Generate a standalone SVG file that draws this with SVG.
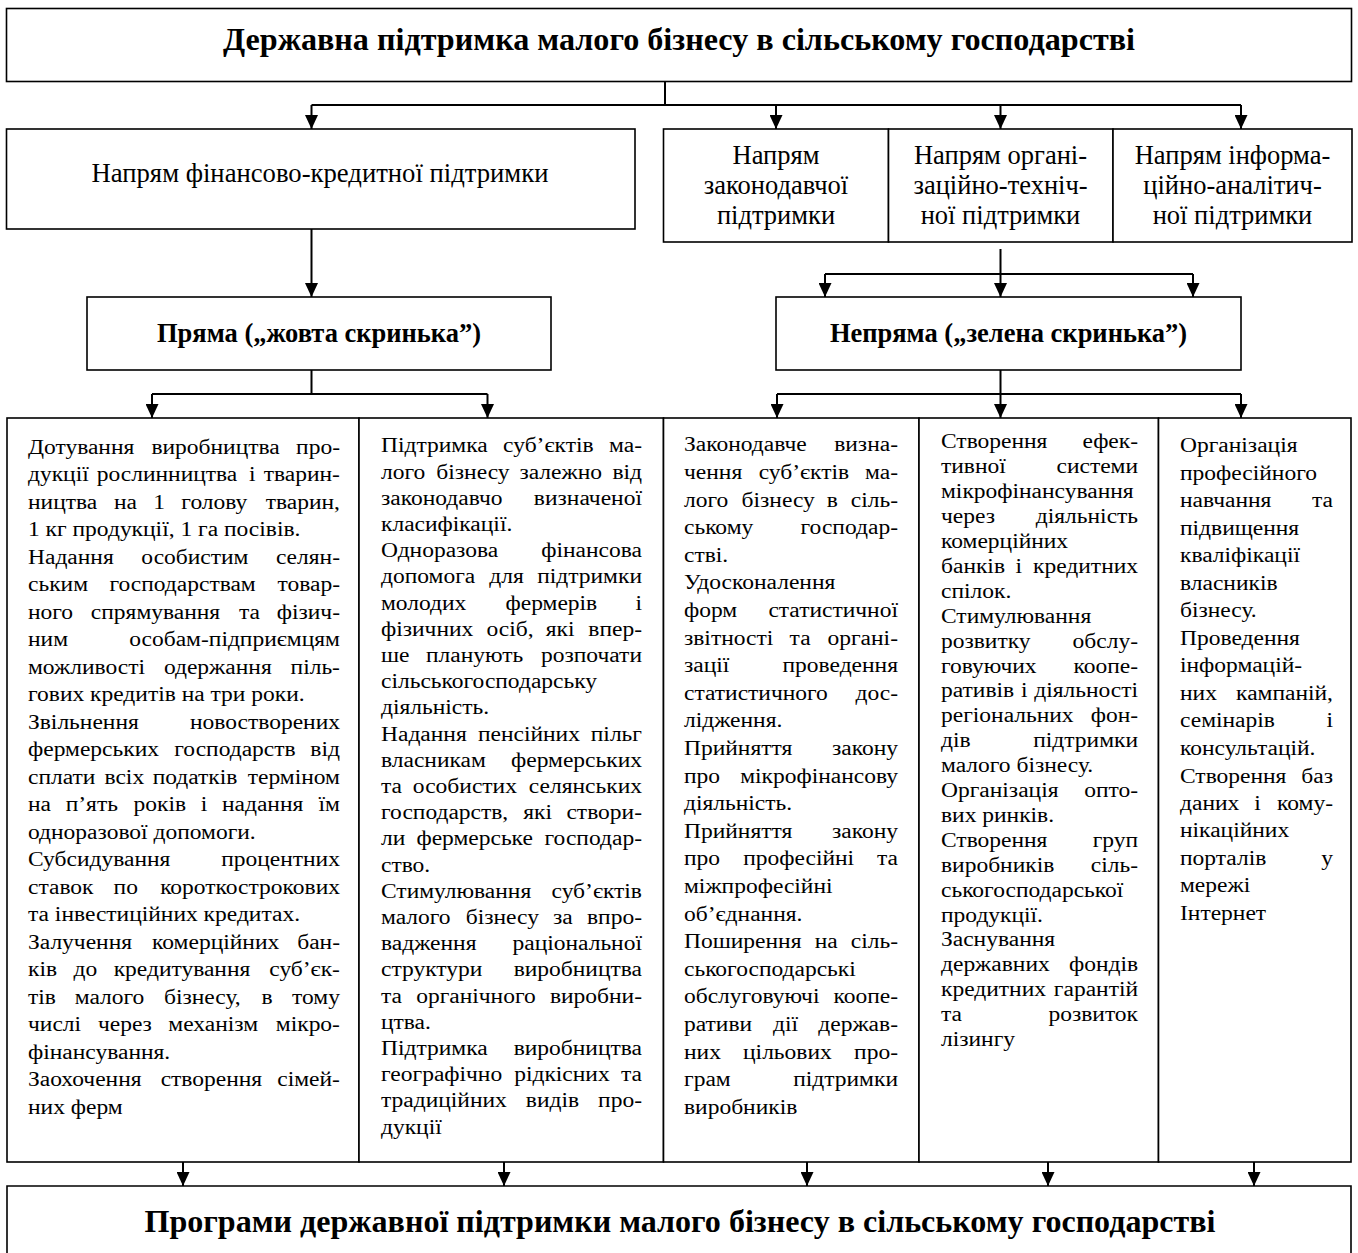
<svg xmlns="http://www.w3.org/2000/svg" width="1358" height="1253" viewBox="0 0 1358 1253">
<defs>
<style>
.box{fill:#fff;stroke:#000;stroke-width:1.6}
.con{fill:none;stroke:#000;stroke-width:2}
text{font-family:"Liberation Serif","Times New Roman",serif;fill:#000}
.h1{font-size:31px;font-weight:bold;text-anchor:middle}
.h2{font-size:26.5px;text-anchor:middle}
.h3{font-size:26.5px;font-weight:bold;text-anchor:middle}
.t{font-size:20px}
.e{text-anchor:end}
.m{text-anchor:middle}
</style>
<marker id="ar" markerUnits="userSpaceOnUse" markerWidth="14" markerHeight="13" refX="14" refY="6.5" orient="auto">
<path d="M0,0 L14,6.5 L0,13 Z" fill="#000"/>
</marker>
</defs>
<rect width="1358" height="1253" fill="#fff"/>

<g id="top">
<rect class="box" x="6.5" y="8.5" width="1345" height="73"/>
<text class="h1" x="679" y="50" textLength="912" lengthAdjust="spacingAndGlyphs">Державна підтримка малого бізнесу в сільському господарстві</text>
</g>

<g id="fin">
<rect class="box" x="6.5" y="129" width="628.5" height="100"/>
<text class="h2" x="320" y="182" textLength="457" lengthAdjust="spacingAndGlyphs">Напрям фінансово-кредитної підтримки</text>
</g>
<g id="zak">
<rect class="box" x="663.5" y="129" width="225" height="113"/>
<text class="h2" x="776" y="164">Напрям</text>
<text class="h2" x="776" y="194">законодавчої</text>
<text class="h2" x="776" y="224">підтримки</text>
</g>
<g id="org">
<rect class="box" x="888.5" y="129" width="224.5" height="113"/>
<text class="h2" x="1000.5" y="164">Напрям органі-</text>
<text class="h2" x="1000.5" y="194">заційно-техніч-</text>
<text class="h2" x="1000.5" y="224">ної підтримки</text>
</g>
<g id="inf">
<rect class="box" x="1113" y="129" width="239" height="113"/>
<text class="h2" x="1232.5" y="164">Напрям інформа-</text>
<text class="h2" x="1232.5" y="194">ційно-аналітич-</text>
<text class="h2" x="1232.5" y="224">ної підтримки</text>
</g>

<g id="pryama">
<rect class="box" x="87" y="297" width="464" height="73"/>
<text class="h3" x="319" y="342">Пряма („жовта скринька”)</text>
</g>
<g id="nepryama">
<rect class="box" x="776" y="297" width="465" height="73"/>
<text class="h3" x="1008.5" y="342">Непряма („зелена скринька”)</text>
</g>

<g id="col1">
<rect class="box" x="7" y="418" width="352" height="744"/>
<g transform="translate(28,0) scale(1.175,1)">
<text class="t" x="0" y="454">Дотування</text><text class="t m" x="159.65" y="454">виробництва</text><text class="t e" x="265.5" y="454">про-</text>
<text class="t" x="0" y="481.5">дукції</text><text class="t" x="58.5" y="481.5">рослинництва</text><text class="t" x="188" y="481.5">і</text><text class="t e" x="265.5" y="481.5">тварин-</text>
<text class="t" x="0" y="509">ництва</text><text class="t" x="73.1" y="509">на</text><text class="t" x="106.6" y="509">1</text><text class="t" x="130.5" y="509">голову</text><text class="t e" x="265.5" y="509">тварин,</text>
<text class="t" x="0" y="536.5">1 кг продукції, 1 га посівів.</text>
<text class="t" x="0" y="564">Надання</text><text class="t m" x="142.05" y="564">особистим</text><text class="t e" x="265.5" y="564">селян-</text>
<text class="t" x="0" y="591.5">ським</text><text class="t m" x="131.55" y="591.5">господарствам</text><text class="t e" x="265.5" y="591.5">товар-</text>
<text class="t" x="0" y="619">ного</text><text class="t" x="53.5" y="619">спрямування</text><text class="t" x="179.5" y="619">та</text><text class="t e" x="265.5" y="619">фізич-</text>
<text class="t" x="0" y="646.5">ним</text><text class="t e" x="265.5" y="646.5">особам-підприємцям</text>
<text class="t" x="0" y="674">можливості</text><text class="t m" x="161.55" y="674">одержання</text><text class="t e" x="265.5" y="674">піль-</text>
<text class="t" x="0" y="701.5">гових кредитів на три роки.</text>
<text class="t" x="0" y="729">Звільнення</text><text class="t e" x="265.5" y="729">новостворених</text>
<text class="t" x="0" y="756.5">фермерських</text><text class="t m" x="176.15" y="756.5">господарств</text><text class="t e" x="265.5" y="756.5">від</text>
<text class="t" x="0" y="784">сплати</text><text class="t" x="65.1" y="784">всіх</text><text class="t" x="106.1" y="784">податків</text><text class="t e" x="265.5" y="784">терміном</text>
<text class="t" x="0" y="811.5">на</text><text class="t" x="32.1" y="811.5">п’ять</text><text class="t" x="89.8" y="811.5">років</text><text class="t" x="147" y="811.5">і</text><text class="t" x="165.1" y="811.5">надання</text><text class="t e" x="265.5" y="811.5">їм</text>
<text class="t" x="0" y="839">одноразової допомоги.</text>
<text class="t" x="0" y="866.5">Субсидування</text><text class="t e" x="265.5" y="866.5">процентних</text>
<text class="t" x="0" y="894">ставок</text><text class="t m" x="83.2" y="894">по</text><text class="t e" x="265.5" y="894">короткострокових</text>
<text class="t" x="0" y="921.5">та інвестиційних кредитах.</text>
<text class="t" x="0" y="949">Залучення</text><text class="t m" x="159.7" y="949">комерційних</text><text class="t e" x="265.5" y="949">бан-</text>
<text class="t" x="0" y="976.5">ків</text><text class="t" x="38.7" y="976.5">до</text><text class="t" x="72.9" y="976.5">кредитування</text><text class="t e" x="265.5" y="976.5">суб’єк-</text>
<text class="t" x="0" y="1004">тів</text><text class="t" x="39.8" y="1004">малого</text><text class="t" x="115.7" y="1004">бізнесу,</text><text class="t" x="198.7" y="1004">в</text><text class="t e" x="265.5" y="1004">тому</text>
<text class="t" x="0" y="1031.5">числі</text><text class="t" x="59.5" y="1031.5">через</text><text class="t" x="119.4" y="1031.5">механізм</text><text class="t e" x="265.5" y="1031.5">мікро-</text>
<text class="t" x="0" y="1059">фінансування.</text>
<text class="t" x="0" y="1086.5">Заохочення</text><text class="t m" x="156.1" y="1086.5">створення</text><text class="t e" x="265.5" y="1086.5">сімей-</text>
<text class="t" x="0" y="1114">них ферм</text>
</g>
</g>

<g id="col2">
<rect class="box" x="359" y="418" width="304.5" height="744"/>
<g transform="translate(381,0) scale(1.175,1)">
<text class="t" x="0" y="452.5">Підтримка</text><text class="t m" x="142.4" y="452.5">суб’єктів</text><text class="t e" x="222.1" y="452.5">ма-</text>
<text class="t" x="0" y="478.7">лого</text><text class="t" x="47.1" y="478.7">бізнесу</text><text class="t" x="117.8" y="478.7">залежно</text><text class="t e" x="222.1" y="478.7">від</text>
<text class="t" x="0" y="504.9">законодавчо</text><text class="t e" x="222.1" y="504.9">визначеної</text>
<text class="t" x="0" y="531.1">класифікації.</text>
<text class="t" x="0" y="557.3">Одноразова</text><text class="t e" x="222.1" y="557.3">фінансова</text>
<text class="t" x="0" y="583.5">допомога</text><text class="t m" x="106.9" y="583.5">для</text><text class="t e" x="222.1" y="583.5">підтримки</text>
<text class="t" x="0" y="609.7">молодих</text><text class="t m" x="145" y="609.7">фермерів</text><text class="t e" x="222.1" y="609.7">і</text>
<text class="t" x="0" y="635.9">фізичних</text><text class="t" x="89.7" y="635.9">осіб,</text><text class="t" x="140.2" y="635.9">які</text><text class="t e" x="222.1" y="635.9">впер-</text>
<text class="t" x="0" y="662.1">ше</text><text class="t m" x="79.7" y="662.1">планують</text><text class="t e" x="222.1" y="662.1">розпочати</text>
<text class="t" x="0" y="688.3">сільськогосподарську</text>
<text class="t" x="0" y="714.5">діяльність.</text>
<text class="t" x="0" y="740.7">Надання</text><text class="t m" x="125.9" y="740.7">пенсійних</text><text class="t e" x="222.1" y="740.7">пільг</text>
<text class="t" x="0" y="766.9">власникам</text><text class="t e" x="222.1" y="766.9">фермерських</text>
<text class="t" x="0" y="793.1">та</text><text class="t m" x="71.4" y="793.1">особистих</text><text class="t e" x="222.1" y="793.1">селянських</text>
<text class="t" x="0" y="819.3">господарств,</text><text class="t m" x="133.3" y="819.3">які</text><text class="t e" x="222.1" y="819.3">створи-</text>
<text class="t" x="0" y="845.5">ли</text><text class="t m" x="79.7" y="845.5">фермерське</text><text class="t e" x="222.1" y="845.5">господар-</text>
<text class="t" x="0" y="871.7">ство.</text>
<text class="t" x="0" y="897.9">Стимулювання</text><text class="t e" x="222.1" y="897.9">суб’єктів</text>
<text class="t" x="0" y="924.1">малого</text><text class="t" x="72.1" y="924.1">бізнесу</text><text class="t" x="146.3" y="924.1">за</text><text class="t e" x="222.1" y="924.1">впро-</text>
<text class="t" x="0" y="950.3">вадження</text><text class="t e" x="222.1" y="950.3">раціональної</text>
<text class="t" x="0" y="976.5">структури</text><text class="t e" x="222.1" y="976.5">виробництва</text>
<text class="t" x="0" y="1002.7">та</text><text class="t m" x="80.8" y="1002.7">органічного</text><text class="t e" x="222.1" y="1002.7">виробни-</text>
<text class="t" x="0" y="1028.9">цтва.</text>
<text class="t" x="0" y="1055.1">Підтримка</text><text class="t e" x="222.1" y="1055.1">виробництва</text>
<text class="t" x="0" y="1081.3">географічно</text><text class="t m" x="154" y="1081.3">рідкісних</text><text class="t e" x="222.1" y="1081.3">та</text>
<text class="t" x="0" y="1107.5">традиційних</text><text class="t m" x="145.9" y="1107.5">видів</text><text class="t e" x="222.1" y="1107.5">про-</text>
<text class="t" x="0" y="1133.7">дукції</text>
</g>
</g>

<g id="col3">
<rect class="box" x="663.5" y="418" width="255.5" height="744"/>
<g transform="translate(684,0) scale(1.175,1)">
<text class="t" x="0" y="451.5">Законодавче</text><text class="t e" x="182.1" y="451.5">визна-</text>
<text class="t" x="0" y="479.1">чення</text><text class="t m" x="102" y="479.1">суб’єктів</text><text class="t e" x="182.1" y="479.1">ма-</text>
<text class="t" x="0" y="506.7">лого</text><text class="t" x="49" y="506.7">бізнесу</text><text class="t" x="121.6" y="506.7">в</text><text class="t e" x="182.1" y="506.7">сіль-</text>
<text class="t" x="0" y="534.3">ському</text><text class="t e" x="182.1" y="534.3">господар-</text>
<text class="t" x="0" y="561.9">стві.</text>
<text class="t" x="0" y="589.5">Удосконалення</text>
<text class="t" x="0" y="617.1">форм</text><text class="t e" x="182.1" y="617.1">статистичної</text>
<text class="t" x="0" y="644.7">звітності</text><text class="t m" x="98.8" y="644.7">та</text><text class="t e" x="182.1" y="644.7">органі-</text>
<text class="t" x="0" y="672.3">зації</text><text class="t e" x="182.1" y="672.3">проведення</text>
<text class="t" x="0" y="699.9">статистичного</text><text class="t e" x="182.1" y="699.9">дос-</text>
<text class="t" x="0" y="727.5">лідження.</text>
<text class="t" x="0" y="755.1">Прийняття</text><text class="t e" x="182.1" y="755.1">закону</text>
<text class="t" x="0" y="782.7">про</text><text class="t e" x="182.1" y="782.7">мікрофінансову</text>
<text class="t" x="0" y="810.3">діяльність.</text>
<text class="t" x="0" y="837.9">Прийняття</text><text class="t e" x="182.1" y="837.9">закону</text>
<text class="t" x="0" y="865.5">про</text><text class="t m" x="97.6" y="865.5">професійні</text><text class="t e" x="182.1" y="865.5">та</text>
<text class="t" x="0" y="893.1">міжпрофесійні</text>
<text class="t" x="0" y="920.7">об’єднання.</text>
<text class="t" x="0" y="948.3">Поширення</text><text class="t m" x="121" y="948.3">на</text><text class="t e" x="182.1" y="948.3">сіль-</text>
<text class="t" x="0" y="975.9">ськогосподарські</text>
<text class="t" x="0" y="1003.5">обслуговуючі</text><text class="t e" x="182.1" y="1003.5">коопе-</text>
<text class="t" x="0" y="1031.1">ративи</text><text class="t m" x="86.4" y="1031.1">дії</text><text class="t e" x="182.1" y="1031.1">держав-</text>
<text class="t" x="0" y="1058.7">них</text><text class="t m" x="88" y="1058.7">цільових</text><text class="t e" x="182.1" y="1058.7">про-</text>
<text class="t" x="0" y="1086.3">грам</text><text class="t e" x="182.1" y="1086.3">підтримки</text>
<text class="t" x="0" y="1113.9">виробників</text>
</g>
</g>

<g id="col4">
<rect class="box" x="919" y="418" width="239.5" height="744"/>
<g transform="translate(941,0) scale(1.175,1)">
<text class="t" x="0" y="448.5">Створення</text><text class="t e" x="167.7" y="448.5">ефек-</text>
<text class="t" x="0" y="473.4">тивної</text><text class="t e" x="167.7" y="473.4">системи</text>
<text class="t" x="0" y="498.3">мікрофінансування</text>
<text class="t" x="0" y="523.2">через</text><text class="t e" x="167.7" y="523.2">діяльність</text>
<text class="t" x="0" y="548.1">комерційних</text>
<text class="t" x="0" y="573">банків</text><text class="t m" x="66.2" y="573">і</text><text class="t e" x="167.7" y="573">кредитних</text>
<text class="t" x="0" y="597.9">спілок.</text>
<text class="t" x="0" y="622.8">Стимулювання</text>
<text class="t" x="0" y="647.7">розвитку</text><text class="t e" x="167.7" y="647.7">обслу-</text>
<text class="t" x="0" y="672.6">говуючих</text><text class="t e" x="167.7" y="672.6">коопе-</text>
<text class="t" x="0" y="697.5">ративів</text><text class="t m" x="70.9" y="697.5">і</text><text class="t e" x="167.7" y="697.5">діяльності</text>
<text class="t" x="0" y="722.4">регіональних</text><text class="t e" x="167.7" y="722.4">фон-</text>
<text class="t" x="0" y="747.3">дів</text><text class="t e" x="167.7" y="747.3">підтримки</text>
<text class="t" x="0" y="772.2">малого бізнесу.</text>
<text class="t" x="0" y="797.1">Організація</text><text class="t e" x="167.7" y="797.1">опто-</text>
<text class="t" x="0" y="822">вих ринків.</text>
<text class="t" x="0" y="846.9">Створення</text><text class="t e" x="167.7" y="846.9">груп</text>
<text class="t" x="0" y="871.8">виробників</text><text class="t e" x="167.7" y="871.8">сіль-</text>
<text class="t" x="0" y="896.7">ськогосподарської</text>
<text class="t" x="0" y="921.6">продукції.</text>
<text class="t" x="0" y="946.5">Заснування</text>
<text class="t" x="0" y="971.4">державних</text><text class="t e" x="167.7" y="971.4">фондів</text>
<text class="t" x="0" y="996.3">кредитних</text><text class="t e" x="167.7" y="996.3">гарантій</text>
<text class="t" x="0" y="1021.2">та</text><text class="t e" x="167.7" y="1021.2">розвиток</text>
<text class="t" x="0" y="1046.1">лізингу</text>
</g>
</g>

<g id="col5">
<rect class="box" x="1158.5" y="418" width="192.5" height="744"/>
<g transform="translate(1180,0) scale(1.175,1)">
<text class="t" x="0" y="452.5">Організація</text>
<text class="t" x="0" y="480">професійного</text>
<text class="t" x="0" y="507.5">навчання</text><text class="t e" x="130.2" y="507.5">та</text>
<text class="t" x="0" y="535">підвищення</text>
<text class="t" x="0" y="562.5">кваліфікації</text>
<text class="t" x="0" y="590">власників</text>
<text class="t" x="0" y="617.5">бізнесу.</text>
<text class="t" x="0" y="645">Проведення</text>
<text class="t" x="0" y="672.5">інформацій-</text>
<text class="t" x="0" y="700">них</text><text class="t e" x="130.2" y="700">кампаній,</text>
<text class="t" x="0" y="727.5">семінарів</text><text class="t e" x="130.2" y="727.5">і</text>
<text class="t" x="0" y="755">консультацій.</text>
<text class="t" x="0" y="782.5">Створення</text><text class="t e" x="130.2" y="782.5">баз</text>
<text class="t" x="0" y="810">даних</text><text class="t m" x="65.9" y="810">і</text><text class="t e" x="130.2" y="810">кому-</text>
<text class="t" x="0" y="837.5">нікаційних</text>
<text class="t" x="0" y="865">порталів</text><text class="t e" x="130.2" y="865">у</text>
<text class="t" x="0" y="892.5">мережі</text>
<text class="t" x="0" y="920">Інтернет</text>
</g>
</g>

<g id="programs">
<path class="box" d="M7,1262 V1186 H1351 V1262"/>
<text class="h1" x="680" y="1232" textLength="1071" lengthAdjust="spacingAndGlyphs">Програми державної підтримки малого бізнесу в сільському господарстві</text>
</g>

<g id="connectors" class="con">
<path d="M665,81.5 V105 M311.5,105 H1241"/>
<path d="M311.5,105 V129" marker-end="url(#ar)"/>
<path d="M776,105 V129" marker-end="url(#ar)"/>
<path d="M1000.5,105 V129" marker-end="url(#ar)"/>
<path d="M1241,105 V129" marker-end="url(#ar)"/>
<path d="M311.5,229 V297" marker-end="url(#ar)"/>
<path d="M1000.5,249 V274 M825,274 H1193"/>
<path d="M825,274 V297" marker-end="url(#ar)"/>
<path d="M1000.5,274 V297" marker-end="url(#ar)"/>
<path d="M1193,274 V297" marker-end="url(#ar)"/>
<path d="M311.5,370 V394 M152,394 H487.5"/>
<path d="M152,394 V418" marker-end="url(#ar)"/>
<path d="M487.5,394 V418" marker-end="url(#ar)"/>
<path d="M1000.5,370 V394 M777,394 H1241"/>
<path d="M777,394 V418" marker-end="url(#ar)"/>
<path d="M1000.5,394 V418" marker-end="url(#ar)"/>
<path d="M1241,394 V418" marker-end="url(#ar)"/>
<path d="M183,1162 V1186" marker-end="url(#ar)"/>
<path d="M504,1162 V1186" marker-end="url(#ar)"/>
<path d="M807,1162 V1186" marker-end="url(#ar)"/>
<path d="M1048,1162 V1186" marker-end="url(#ar)"/>
<path d="M1254,1162 V1186" marker-end="url(#ar)"/>
</g>
</svg>
